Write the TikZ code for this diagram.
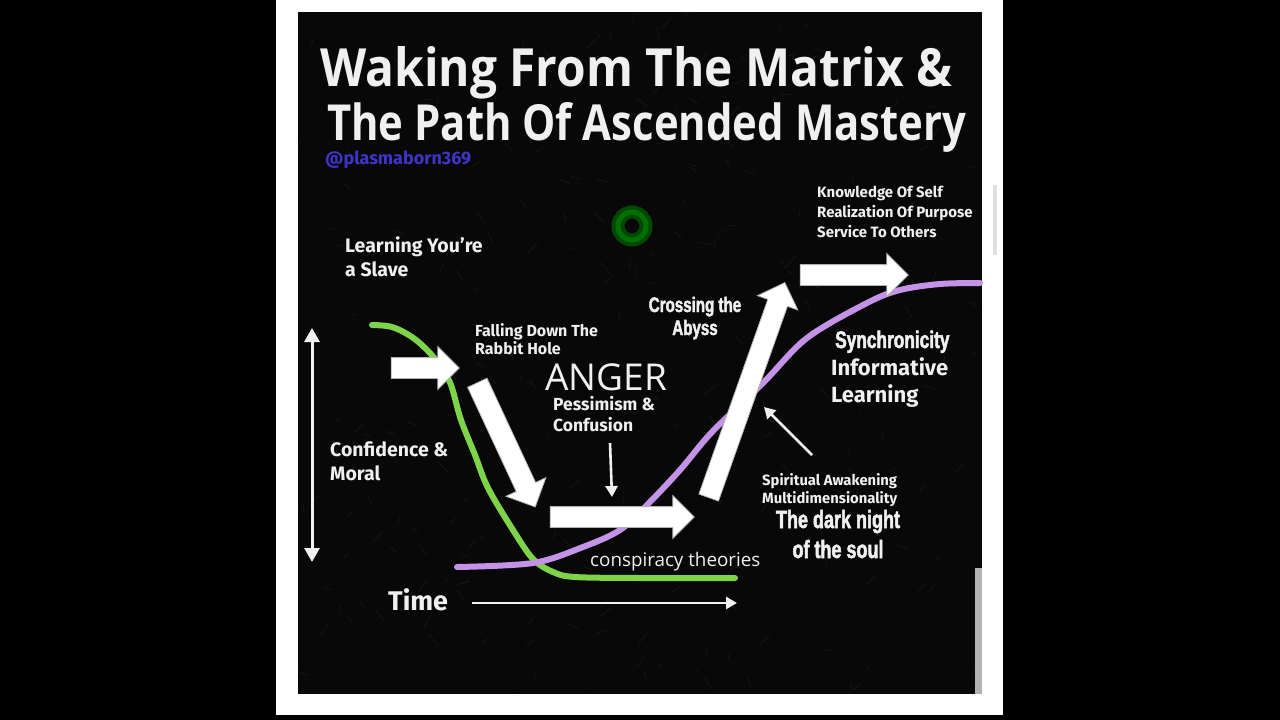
\documentclass[tikz,border=0pt]{standalone}
\usepackage{fontspec}
\setmainfont{Fira Sans}
\newfontfamily\titlefont{Open Sans}
\newfontfamily\heavyfont[FakeStretch=0.72,BoldFeatures={FakeBold=2}]{Liberation Sans}
\usetikzlibrary{shapes.arrows,arrows.meta}
\definecolor{panel}{RGB}{8,8,8}
\definecolor{lime}{RGB}{125,212,72}
\definecolor{lav}{RGB}{196,146,230}
\definecolor{tagblue}{RGB}{62,52,200}
\definecolor{txt}{RGB}{240,240,240}
\tikzset{
  lbl/.style={text=txt,inner sep=0pt,anchor=base west,align=left},
  heavy/.style={text=txt,inner sep=0pt,anchor=base,align=center},
  blockarrow/.style={single arrow,fill=white,draw=gray!60,line width=0.8pt,
    inner sep=10pt,single arrow head extend=11pt,single arrow head indent=0pt},
  thinarrow/.style={draw=txt,line width=2.6pt,-{Triangle[length=11pt,width=12pt]}},
  curve/.style={line width=6pt,line cap=round}
}
\begin{document}
\begin{tikzpicture}[x=1pt,y=-1pt]
\useasboundingbox (0,0) rectangle (1280,720);
\fill[black] (0,0) rectangle (1280,720);
\fill[white] (276,0) rectangle (1003,715);
\fill[panel] (298,12) rectangle (982,694);
% faint grunge texture
\pgfmathsetseed{7}
\begin{scope}
\clip (298,12) rectangle (982,694);
\foreach \i in {1,...,260}{
  \pgfmathsetmacro{\px}{298+684*rnd}
  \pgfmathsetmacro{\py}{12+682*rnd}
  \pgfmathsetmacro{\dx}{12*rand}
  \pgfmathsetmacro{\dy}{12*rand}
  \draw[gray!70,line width=0.6pt,opacity=0.1] (\px,\py) -- ++(\dx,\dy);
}
\end{scope}
\fill[gray!25] (993,185) rectangle (997,255);
\fill[gray!60] (975,568) rectangle (982,694);
% green ring
\draw[green!35!black,line width=13pt,opacity=0.8] (632,226) circle (14pt);
\draw[green!55!black,line width=5pt,opacity=0.6] (632,226) circle (14pt);
% title
\node[lbl,font=\titlefont\bfseries] (t1) at (320,86) {\raisebox{0pt}[\height][0pt]{\resizebox{632pt}{40pt}{Waking From The Matrix \&}}};
\node[lbl,font=\titlefont\bfseries] (t2) at (327,140) {\raisebox{0pt}[\height][0pt]{\resizebox{639pt}{38pt}{The Path Of Ascended Mastery}}};
\node[lbl,text=tagblue,font=\bfseries\fontsize{18}{20}\selectfont] (tag) at (325,164) {@plasmaborn369};
% curves
\draw[curve,lime] plot[smooth,tension=0.55] coordinates {(372,325) (392,327) (412,337) (428,351) (441,367) (451,385) (461,420) (475,455) (488,488) (513,530) (533,559) (553,572) (575,577) (640,578) (735,578)};
\draw[curve,lav] plot[smooth,tension=0.55] coordinates {(457,567) (533,563) (583,547) (620,530) (647,505) (680,470) (712,432) (763,383) (807,338) (867,303) (900,290) (940,284) (980,283)};
% axes
\coordinate (vtop) at (312,328);
\coordinate (vbot) at (312,562);
\draw[draw=txt,line width=3pt,{Triangle[length=14pt,width=15pt]}-{Triangle[length=14pt,width=15pt]}] (vtop) -- (vbot);
\coordinate (ts) at (472,603);
\coordinate (te) at (737,603);
\draw[thinarrow] (ts) -- (te);
% block arrows
\node[blockarrow,minimum height=68pt,minimum width=42pt] (a1) at (420,368) {};
\node[blockarrow,minimum height=137pt,minimum width=44pt,rotate=-65] (a2) at (504,440) {};
\node[blockarrow,minimum height=144pt,minimum width=42pt] (a3) at (617,517) {};
\node[blockarrow,minimum height=228pt,minimum width=42pt,rotate=70.5] (a4) at (745,395) {};
\node[blockarrow,minimum height=108pt,minimum width=42pt] (a5) at (849,275) {};
% thin arrows
\coordinate (p1) at (610,443);
\coordinate (p2) at (612,497);
\draw[thinarrow] (p1) -- (p2);
\coordinate (q1) at (812,455);
\coordinate (q2) at (764,407);
\draw[thinarrow] (q1) -- (q2);
% labels (anchor = baseline of last line)
\node[lbl,font=\bfseries\fontsize{19.5}{24}\selectfont] (slave) at (345,276) {Learning You're\\a Slave};
\node[lbl,font=\bfseries\fontsize{19.5}{24}\selectfont] (conf) at (330,480) {Confidence \&\\Moral};
\node[lbl,font=\bfseries\fontsize{27}{30}\selectfont] (time) at (388,610) {Time};
\node[lbl,font=\bfseries\fontsize{16}{18}\selectfont] (fall) at (475,354) {Falling Down The\\Rabbit Hole};
\node[lbl,font=\titlefont\fontsize{37}{40}\selectfont] (anger) at (545,390) {ANGER};
\node[lbl,font=\bfseries\fontsize{17.5}{21}\selectfont] (pess) at (553,431) {Pessimism \&\\Confusion};
\node[heavy,font=\heavyfont\bfseries\fontsize{21}{23}\selectfont] (cross) at (695,335) {Crossing the\\Abyss};
\node[lbl,font=\bfseries\fontsize{15}{20}\selectfont] (know) at (817,237) {Knowledge Of Self\\Realization Of Purpose\\Service To Others};
\node[lbl,font=\heavyfont\bfseries\fontsize{24}{28}\selectfont] (sync) at (835,348) {Synchronicity};
\node[lbl,font=\bfseries\fontsize{22}{27}\selectfont] (info) at (831,402) {Informative\\Learning};
\node[lbl,font=\bfseries\fontsize{14.8}{18}\selectfont] (spirit) at (762,503) {Spiritual Awakening\\Multidimensionality};
\node[heavy,font=\heavyfont\bfseries\fontsize{25}{30}\selectfont] (dark) at (838,558) {The dark night\\of the soul};
\node[lbl,font=\titlefont\fontsize{18.8}{20}\selectfont] (consp) at (590,566) {conspiracy theories};
\end{tikzpicture}
\end{document}
